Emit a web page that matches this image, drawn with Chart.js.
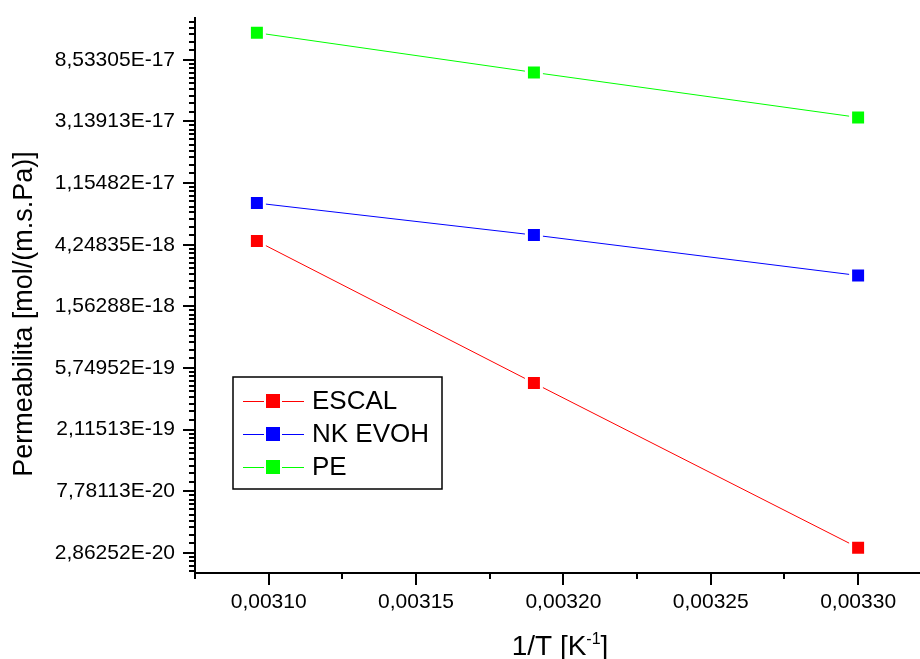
<!DOCTYPE html>
<html>
<head>
<meta charset="utf-8">
<script src="https://cdn.jsdelivr.net/npm/chart.js@4.4.1/dist/chart.umd.min.js"></script>
<style>
  html, body { margin: 0; padding: 0; background: #fff; overflow: hidden; }
  #wrap { width: 920px; height: 659px; position: relative; }
</style>
</head>
<body>
<div id="wrap"><canvas id="chart"></canvas></div>
<script>
// values (1/T in K^-1, permeability in mol/(m.s.Pa))
const invTemp = [0.003096, 0.00319, 0.0033];
const escal  = [4.51e-18, 4.51e-19, 3.12e-20];
const nkEvoh = [8.35e-18, 4.97e-18, 2.58e-18];
const pe     = [1.322e-16, 6.95e-17, 3.35e-17];

const seriesNames  = ['ESCAL', 'NK EVOH', 'PE'];
const seriesColors = ['#ff0000', '#0000ff', '#00ff00'];

// Origin style natural-log axis, major ticks every factor e
const yTickLabels = [
    '8,53305E-17', '3,13913E-17', '1,15482E-17', '4,24835E-18', '1,56288E-18',
    '5,74952E-19', '2,11513E-19', '7,78113E-20', '2,86252E-20'
];
const yTickValues = yTickLabels.map(s => parseFloat(s.replace(',', '.')));
const yMin = 2.07e-20;
const yMax = 1.68e-16;

const xMin = 0.003075;
const xMax = 0.003321;
const xStep = 0.00005;

const FONT = '"Liberation Sans", Arial, Helvetica, sans-serif';

function toPoints(ys) {
    return invTemp.map((x, i) => ({ x: x, y: ys[i] }));
}

const allSeries = [escal, nkEvoh, pe];
const datasets = allSeries.map((ys, i) => ({
    label: seriesNames[i],
    data: toPoints(ys),
    borderColor: seriesColors[i],
    backgroundColor: seriesColors[i],
    borderWidth: 1,
    tension: 0,
    pointStyle: 'rect',
    pointRadius: 10.6,
    pointBorderWidth: 3,
    pointBorderColor: '#ffffff',
    pointBackgroundColor: seriesColors[i]
}));

// minor ticks, axis titles and the boxed legend
const originDecor = {
    id: 'originDecor',
    afterDraw(chart) {
        const ctx = chart.ctx;
        const area = chart.chartArea;
        const xs = chart.scales.x;
        const ys = chart.scales.y;
        ctx.save();
        ctx.strokeStyle = '#000';
        ctx.lineWidth = 2;

        // x minor ticks
        for (let v = xMin; v <= xMax + 1e-12; v += xStep) {
            const px = Math.round(xs.getPixelForValue(v));
            ctx.beginPath();
            ctx.moveTo(px, area.bottom);
            ctx.lineTo(px, area.bottom + 6);
            ctx.stroke();
        }

        // y minor ticks: 9 per step of e, linear in value
        const majors = [yTickValues[0] * Math.E, ...yTickValues, yTickValues[yTickValues.length - 1] / Math.E];
        for (let k = 0; k < majors.length - 1; k++) {
            const hi = majors[k], lo = majors[k + 1];
            for (let i = 1; i <= 9; i++) {
                const v = lo + i * (hi - lo) / 10;
                if (v < yMin || v > yMax) continue;
                const py = Math.round(ys.getPixelForValue(v));
                ctx.beginPath();
                ctx.moveTo(area.left - 6, py);
                ctx.lineTo(area.left, py);
                ctx.stroke();
            }
        }

        // y title
        ctx.fillStyle = '#000';
        ctx.font = '27px ' + FONT;
        ctx.textAlign = 'center';
        ctx.textBaseline = 'alphabetic';
        ctx.save();
        ctx.translate(32, 314);
        ctx.rotate(-Math.PI / 2);
        ctx.fillText('Permeabilita [mol/(m.s.Pa)]', 0, 0);
        ctx.restore();

        // x title with superscript
        const big = '28px ' + FONT, small = '16px ' + FONT;
        ctx.textAlign = 'left';
        ctx.font = big;
        const w1 = ctx.measureText('1/T [K').width;
        const w3 = ctx.measureText(']').width;
        ctx.font = small;
        const w2 = ctx.measureText('-1').width;
        let tx = 560 - (w1 + w2 + w3) / 2;
        const base = 655;
        ctx.font = big;
        ctx.fillText('1/T [K', tx, base);
        tx += w1;
        ctx.font = small;
        ctx.fillText('-1', tx, base - 11);
        tx += w2;
        ctx.font = big;
        ctx.fillText(']', tx, base);

        // legend box
        ctx.lineWidth = 1.5;
        ctx.strokeRect(233, 377, 209, 112);
        ctx.font = '26px ' + FONT;
        ctx.textBaseline = 'middle';
        chart.data.datasets.forEach((ds, i) => {
            const cy = 401 + i * 33;
            ctx.strokeStyle = ds.borderColor;
            ctx.lineWidth = 1;
            ctx.beginPath();
            ctx.moveTo(243, cy + 0.5);
            ctx.lineTo(304, cy + 0.5);
            ctx.stroke();
            ctx.fillStyle = '#fff';
            ctx.fillRect(264, cy - 9, 18, 18);
            ctx.fillStyle = ds.backgroundColor;
            ctx.fillRect(266, cy - 7, 14, 14);
            ctx.fillStyle = '#000';
            ctx.fillText(ds.label, 312, cy + 1);
        });
        ctx.restore();
    }
};

new Chart(document.getElementById('chart'), {
    type: 'line',
    data: { datasets: datasets },
    options: {
        responsive: true,
        maintainAspectRatio: false,
        animation: false,
        devicePixelRatio: 1,
        layout: { autoPadding: false, padding: { top: 18, right: 0, left: 0, bottom: 0 } },
        plugins: {
            legend: { display: false },
            tooltip: { enabled: false }
        },
        scales: {
            x: {
                type: 'linear',
                min: xMin,
                max: xMax,
                afterFit: s => { s.height = 86; s.paddingLeft = 0; s.paddingRight = 0; },
                border: { display: true, color: '#000', width: 2 },
                grid: { display: true, drawOnChartArea: false, drawTicks: true, tickLength: 12, color: '#000', lineWidth: 2 },
                ticks: {
                    stepSize: xStep,
                    includeBounds: false,
                    autoSkip: false,
                    maxRotation: 0,
                    padding: 5,
                    color: '#000',
                    font: { family: FONT, size: 21 },
                    callback: v => v.toFixed(5).replace('.', ',')
                }
            },
            y: {
                type: 'logarithmic',
                min: yMin,
                max: yMax,
                afterFit: s => { s.width = 195; s.paddingTop = 0; s.paddingBottom = 0; },
                afterBuildTicks: s => { s.ticks = yTickValues.map(v => ({ value: v })); },
                border: { display: true, color: '#000', width: 2 },
                grid: { display: true, drawOnChartArea: false, drawTicks: true, tickLength: 12, color: '#000', lineWidth: 2 },
                ticks: {
                    autoSkip: false,
                    padding: 8,
                    color: '#000',
                    font: { family: FONT, size: 21 },
                    callback: (v, i) => yTickLabels[i]
                }
            }
        }
    },
    plugins: [originDecor]
});
</script>
</body>
</html>
